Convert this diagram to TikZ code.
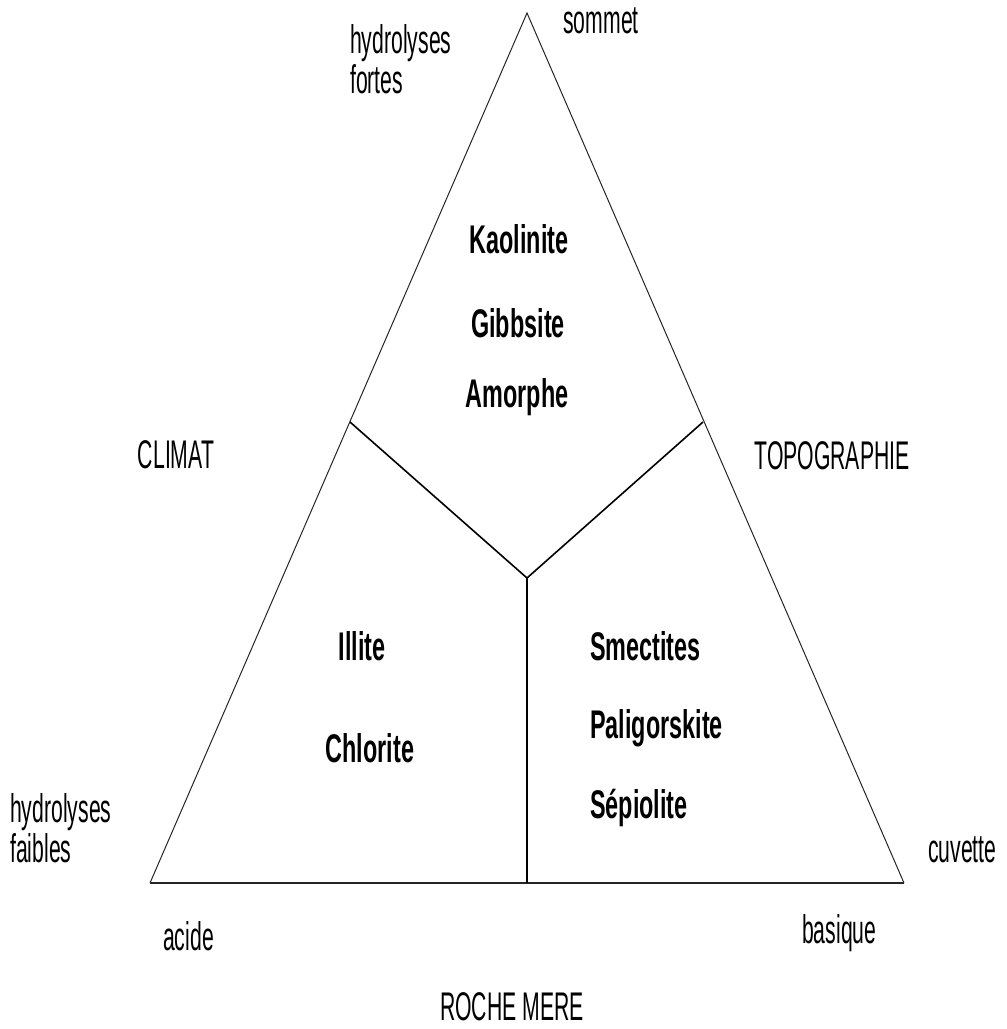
\documentclass[tikz,border=0pt]{standalone}
\usepackage{fontspec}
\setmainfont{Liberation Sans}
\newfontfamily\lblfont{Liberation Sans}[FakeStretch=0.53]
\newfontfamily\minfont{Liberation Sans Bold}[FakeStretch=0.585]
\begin{document}
\begin{tikzpicture}[x=1pt,y=-1pt,
  lbl/.style={inner sep=0pt,font=\lblfont\fontsize{40}{40}\selectfont},
  mineral/.style={inner sep=0pt,font=\minfont\fontsize{40}{40}\selectfont},
  side/.style={line width=1pt,black!85},
  inner/.style={line width=1.6pt},
  baseline/.style={line width=2.8pt,black!85}]
\useasboundingbox (0,0) rectangle (1007,1029);
% vertices
\coordinate (A) at (527,13);
\coordinate (L) at (150,883);
\coordinate (R) at (904,883);
\coordinate (C) at (527,578);
\coordinate (J1) at (350,422);
\coordinate (J2) at (703,422);
\coordinate (B) at (527,883);
% triangle
\draw[side] (L) -- (A) -- (R);
\draw[baseline] (L) -- (R);
\draw[inner] (J1) -- (C) -- (J2);
\draw[inner] (C) -- (B);
% labels
\node[lbl,anchor=base] (sommet) at (601,33) {sommet};
\node[lbl,anchor=base west] (hf1) at (350,53) {hydrolyses};
\node[lbl,anchor=base west] (hf2) at (350,93) {fortes};
\node[lbl,anchor=base] (climat) at (176,468) {CLIMAT};
\node[lbl,anchor=base] (topo) at (832,469) {TOPOGRAPHIE};
\node[lbl,anchor=base west] (hw1) at (10,822) {hydrolyses};
\node[lbl,anchor=base west] (hw2) at (10,862) {faibles};
\node[lbl,anchor=base west] (cuvette) at (928,862) {cuvette};
\node[lbl,anchor=base west] (acide) at (163,950) {acide};
\node[lbl,anchor=base west] (basique) at (802,943) {basique};
\node[lbl,anchor=base,text depth=0pt] (roche) at (512,1020) {ROCHE MERE};
% minerals
\node[mineral,anchor=base] (kao) at (519,253) {Kaolinite};
\node[mineral,anchor=base] (gib) at (518,337) {Gibbsite};
\node[mineral,anchor=base] (amo) at (517,407) {Amorphe};
\node[mineral,anchor=base] (ill) at (362,660) {Illite};
\node[mineral,anchor=base] (chl) at (370,762) {Chlorite};
\node[mineral,anchor=base west] (sme) at (590,660) {Smectites};
\node[mineral,anchor=base west] (pal) at (590,738) {Paligorskite};
\node[mineral,anchor=base west] (sep) at (590,818) {Sépiolite};
\end{tikzpicture}
\end{document}
